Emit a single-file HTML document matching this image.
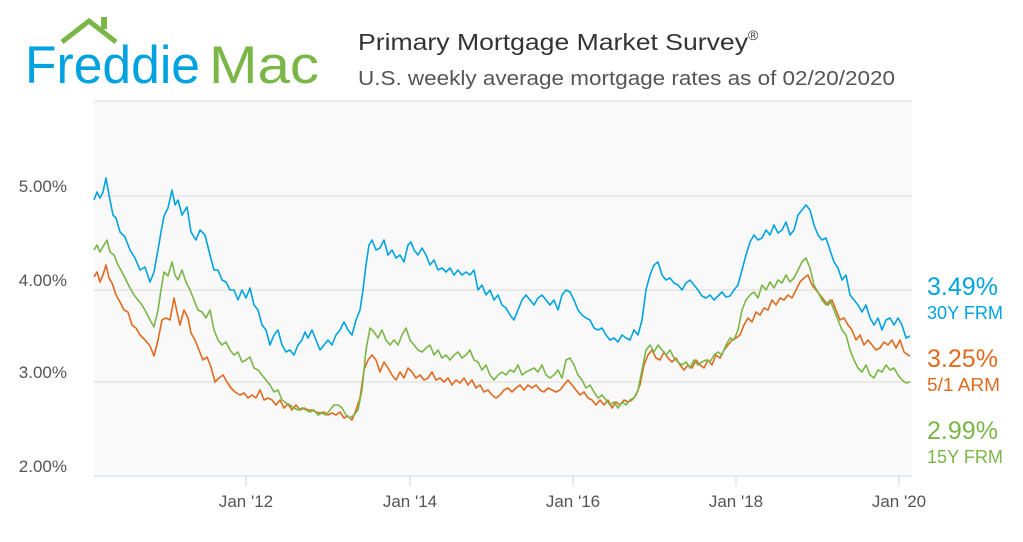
<!DOCTYPE html>
<html><head><meta charset="utf-8"><style>
html,body{margin:0;padding:0;background:#fff;}
body{width:1023px;height:537px;overflow:hidden;font-family:"Liberation Sans",sans-serif;}
</style></head><body>
<svg width="1023" height="537" viewBox="0 0 1023 537" xmlns="http://www.w3.org/2000/svg" font-family="Liberation Sans, sans-serif">
<rect x="0" y="0" width="1023" height="537" fill="#fff"/>
<!-- logo -->
<polyline points="62,42 89,21 116,42" fill="none" stroke="#7ab648" stroke-width="5"/>
<rect x="101" y="17" width="6" height="12" fill="#7ab648"/>
<text x="25" y="83" font-size="53" fill="#00a3e0" textLength="175" lengthAdjust="spacingAndGlyphs">Freddie</text>
<text x="209" y="83" font-size="53" fill="#7ab648" textLength="110" lengthAdjust="spacingAndGlyphs">Mac</text>
<text x="358" y="50" font-size="23" fill="#333"><tspan textLength="390" lengthAdjust="spacingAndGlyphs">Primary Mortgage Market Survey</tspan><tspan font-size="14" dy="-10">®</tspan></text>
<text x="358" y="85" font-size="20" fill="#555" textLength="537" lengthAdjust="spacingAndGlyphs">U.S. weekly average mortgage rates as of 02/20/2020</text>
<!-- plot -->
<rect x="94" y="101" width="818" height="375" fill="#f9f9f9"/>
<line x1="94" y1="101" x2="912" y2="101" stroke="#ddd" stroke-width="1"/>
<g stroke="#dcdcdc" stroke-width="1">
<line x1="94" y1="196" x2="912" y2="196"/><line x1="94" y1="290" x2="912" y2="290"/><line x1="94" y1="382" x2="912" y2="382"/>
</g>
<line x1="94" y1="476" x2="912" y2="476" stroke="#c8d6ee" stroke-width="1"/>
<g stroke="#c8d6ee"><line x1="246" y1="476" x2="246" y2="486"/><line x1="410" y1="476" x2="410" y2="486"/><line x1="573" y1="476" x2="573" y2="486"/><line x1="736" y1="476" x2="736" y2="486"/><line x1="899" y1="476" x2="899" y2="486"/></g>
<g font-size="17" fill="#555" text-anchor="end">
<text x="67" y="192">5.00%</text><text x="67" y="286">4.00%</text><text x="67" y="378">3.00%</text><text x="67" y="472">2.00%</text>
</g>
<g font-size="17" fill="#555" text-anchor="middle">
<text x="246" y="507">Jan '12</text><text x="410" y="507">Jan '14</text><text x="573" y="507">Jan '16</text><text x="736" y="507">Jan '18</text><text x="899" y="507">Jan '20</text>
</g>
<g fill="none" stroke-width="1.6" stroke-linejoin="round">
<polyline stroke="#00a3e0" points="94,200 97,192 100,198 103,192 106,178 109,195 113,215 116,218 120,232 125,237 130,250 135,258 140,270 145,267 150,282 154,272 158,250 161,232 164,216 168,208 172,190 175,205 178,200 182,215 187,207 191,232 196,240 200,230 205,235 210,255 214,270 218,270 222,280 226,282 230,290 234,290 238,300 242,290 246,298 250,288 254,305 258,310 262,325 266,330 270,345 274,335 278,330 282,345 286,352 290,350 294,355 298,345 302,340 305,332 308,338 312,330 316,340 320,350 324,345 328,340 332,345 336,335 340,330 344,322 348,330 352,335 356,320 360,310 363,290 366,265 369,245 372,240 376,250 380,248 384,240 388,255 392,250 396,258 400,255 404,262 408,245 411,242 414,250 418,255 422,248 426,255 430,265 434,260 438,270 442,268 446,272 450,268 454,275 458,270 462,275 466,272 470,275 474,270 478,290 482,285 486,295 490,290 494,300 498,295 502,305 506,308 510,315 514,320 518,310 522,300 526,295 530,300 534,305 538,298 542,295 546,300 550,305 554,300 558,310 562,295 566,290 570,292 574,300 578,310 582,315 586,318 590,320 594,328 598,330 602,328 606,335 610,340 614,338 618,342 622,335 626,338 630,340 634,330 638,335 642,320 646,290 650,275 654,265 658,262 662,275 666,280 670,278 674,283 678,285 682,290 686,283 690,280 694,285 698,290 702,296 706,298 710,295 714,300 718,296 722,292 726,297 730,296 734,290 738,285 742,270 746,255 750,242 754,235 758,240 762,238 766,230 770,235 774,225 778,233 782,230 786,222 790,235 794,230 798,215 802,210 806,205 810,210 814,225 818,235 822,240 826,238 830,250 834,262 838,268 842,280 846,275 850,295 854,300 858,305 862,312 866,305 870,318 874,325 878,318 882,330 886,320 890,318 894,325 898,318 902,325 906,338 910,336"/>
<polyline stroke="#e06a1e" points="94,277 97,272 100,282 103,275 106,265 109,278 112,283 116,295 120,302 124,310 128,312 132,325 136,328 140,335 145,340 150,346 154,356 158,340 162,320 166,318 170,320 174,298 177,312 180,325 184,310 188,318 191,333 195,340 199,350 203,360 207,357 211,367 215,382 219,378 223,375 227,382 231,388 235,392 240,395 244,393 248,398 252,395 256,398 260,390 264,400 268,398 272,400 276,405 280,400 284,408 288,404 292,410 296,405 300,410 304,408 308,410 312,410 316,412 320,413 324,412 328,415 332,413 336,415 340,412 344,418 348,416 352,420 356,410 360,398 364,370 368,360 372,355 376,360 380,372 384,362 388,368 392,375 396,380 400,372 404,378 408,368 412,372 416,378 420,375 424,380 428,378 432,372 436,380 440,378 444,382 448,378 452,385 456,380 460,383 464,378 468,385 472,380 476,388 480,385 484,392 488,390 492,395 496,398 500,395 504,390 508,388 512,392 516,388 520,385 524,390 528,385 532,388 536,385 540,390 544,392 548,388 552,390 556,392 560,390 564,385 568,380 572,385 576,390 580,395 584,392 588,398 592,400 596,405 600,400 604,405 608,400 612,408 616,402 620,405 624,400 628,402 632,400 636,395 640,385 644,365 648,355 652,350 656,358 660,360 664,352 668,358 672,362 676,358 680,365 684,370 688,365 692,368 696,360 700,365 704,368 708,360 712,365 716,355 720,358 724,350 728,345 732,340 736,338 740,335 744,325 748,318 752,322 756,312 760,315 764,308 768,310 772,300 776,305 780,298 784,300 788,295 792,298 796,290 800,282 804,278 808,275 812,285 816,290 820,295 824,300 828,305 832,300 836,310 840,320 844,318 848,325 852,330 856,340 860,335 864,345 868,340 872,345 876,350 880,348 884,342 888,345 892,340 896,348 900,340 904,352 908,355 910,356"/>
<polyline stroke="#7ab648" points="94,250 97,245 100,252 104,245 107,240 110,252 114,255 118,265 122,272 126,280 130,288 134,295 138,300 142,305 146,312 150,320 154,327 158,310 161,290 164,272 168,276 172,262 175,275 178,280 182,270 186,282 190,290 194,300 198,310 202,312 206,318 210,310 214,330 218,340 222,345 226,342 230,350 234,355 238,352 242,362 246,360 250,357 254,368 258,370 262,375 266,380 270,385 274,392 278,390 282,400 286,403 290,405 294,408 298,410 302,408 306,410 310,412 314,410 318,415 322,413 326,415 330,410 334,405 338,405 342,408 346,415 350,418 354,415 358,410 362,390 366,350 370,328 374,332 378,338 382,330 386,340 390,345 394,340 398,345 402,335 406,328 410,340 414,345 418,350 422,352 426,348 430,345 434,355 438,350 442,358 446,355 450,360 454,355 458,352 462,358 466,355 470,350 474,360 478,362 482,370 486,365 490,375 494,380 498,375 502,372 506,375 510,370 514,372 518,365 522,375 526,372 530,370 534,368 538,372 542,365 546,375 550,378 554,375 558,370 562,378 566,360 570,358 574,365 578,375 582,380 586,388 590,385 594,392 598,398 602,395 606,400 610,405 614,402 618,408 622,402 626,405 630,400 634,398 638,390 642,370 646,350 650,345 654,352 658,345 662,350 666,355 670,350 674,358 678,362 682,365 686,362 690,368 694,360 698,365 702,362 706,360 710,362 714,355 718,352 722,355 726,345 730,338 734,340 738,330 742,310 746,300 750,295 754,292 758,298 762,285 766,290 770,282 774,288 778,280 782,283 786,275 790,282 794,278 798,270 802,262 806,258 810,268 814,285 818,292 822,300 826,305 830,300 834,310 838,320 842,330 846,335 850,350 854,360 858,368 862,372 866,365 870,375 874,378 878,370 882,372 886,365 890,370 894,368 898,375 902,380 906,383 910,382"/>
</g>
<!-- right labels -->
<text x="927" y="295" font-size="25" fill="#00a3e0" textLength="71" lengthAdjust="spacingAndGlyphs">3.49%</text>
<text x="927" y="319" font-size="18" fill="#00a3e0" textLength="76" lengthAdjust="spacingAndGlyphs">30Y FRM</text>
<text x="927" y="367" font-size="25" fill="#e06a1e" textLength="71" lengthAdjust="spacingAndGlyphs">3.25%</text>
<text x="927" y="391" font-size="18" fill="#e06a1e" textLength="73" lengthAdjust="spacingAndGlyphs">5/1 ARM</text>
<text x="927" y="439" font-size="25" fill="#7ab648" textLength="71" lengthAdjust="spacingAndGlyphs">2.99%</text>
<text x="927" y="463" font-size="18" fill="#7ab648" textLength="76" lengthAdjust="spacingAndGlyphs">15Y FRM</text>
</svg>
</body></html>
